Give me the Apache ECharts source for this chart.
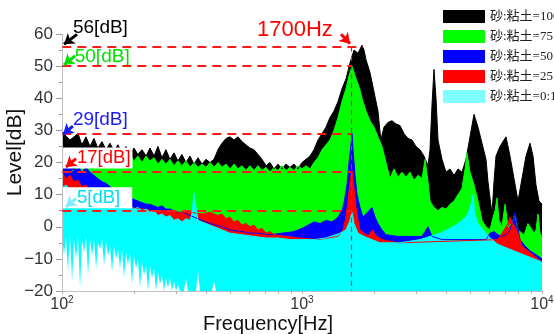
<!DOCTYPE html>
<html>
<head>
<meta charset="utf-8">
<script src="https://cdn.jsdelivr.net/npm/echarts@6/dist/echarts.min.js"></script>
<style>
  html, body {margin: 0; padding: 0; background: #fff;}
  #chart {width: 554px; height: 334px;}
</style>
</head>
<body>
<div id="chart"></div>
<script>
// legend names
const names = ['砂:粘土=100:0', '砂:粘土=75:25', '砂:粘土=50:50', '砂:粘土=25:75', '砂:粘土=0:100'];

// upper edges of each spectrum, [Hz, dB]
const blackSpec = [[100,29.5],[108,27],[116.6,29],[121,25.5],[125.9,28],[130.8,25],[135.9,27.5],[141,24.5],[146.8,26.5],[152.5,24],[158.5,26],[164.7,23.5],[171,25.5],[177.8,23],[184.8,25],[192,22.5],[199.5,24.5],[207,22.5],[215.4,24],[224,22],[232.6,24.5],[241.7,22],[251,25],[261,21.5],[271,24],[281.8,21],[292.9,23],[304,20.5],[316,22.5],[328.6,20],[341.5,22],[354.8,19.5],[368.7,21.5],[383,19.5],[398,21],[413.7,20],[429.9,21],[446.7,24],[464,26],[482.5,27.5],[501,28],[521,27],[541,28],[562,26.5],[584,25.5],[607,24.5],[631,24],[655.7,22.5],[681,21],[708,19],[735.6,20],[764.5,18],[794,19.5],[825.4,18],[857.7,19.5],[891,18.5],[926,19.5],[962,18],[1000,20],[1039,21],[1080,22],[1122,24],[1166,27],[1212,29],[1259,31],[1308,34],[1359,36],[1413,39],[1468,43],[1525,46],[1585,51],[1647,55],[1711,54],[1778,56.5],[1813,55],[1848,52],[1920,48],[1995,42],[2073,36],[2130,27],[2196,31],[2282,32.5],[2371,33],[2464,32],[2560,31.5],[2661,29],[2765,27.5],[2873,27],[2985,25],[3102,24],[3223,22],[3350,19],[3415,24],[3481,38],[3548,49],[3617,40],[3687,27],[3831,21],[3981,17],[4137,18],[4299,16],[4467,18],[4642,17],[4823,21],[5012,28],[5208,35],[5412,31],[5623,26],[5843,21],[5957,14],[6190,4],[6310,14],[6432,22],[6683,25],[6945,27],[7080,28],[7356,22],[7644,15],[7943,8],[8254,15],[8577,22],[8913,26],[9175,22],[9440,13],[9715,8],[10000,7]];

const greenSpec = [[100,17],[108,17],[116.6,18.5],[121,20],[125.9,19],[130.8,21.5],[135.9,20],[141,22],[146.8,21],[152.5,23.5],[158.5,21.5],[164.7,23],[171,21],[177.8,22.5],[184.8,21],[192,22.5],[199.5,20.5],[207,22],[215.4,20],[224,22],[232.6,20.5],[241.7,21.5],[251,19.5],[261,21],[271,19.5],[281.8,21],[292.9,19],[304,20.5],[316,19],[328.6,20.5],[341.5,18.5],[354.8,20],[368.7,18.5],[383,19.5],[398,18.5],[413.7,20],[429.9,18.5],[446.7,20],[464,18.5],[482.5,19.5],[501,18],[521,19.5],[541,18],[562,19],[584,17.5],[607,19],[631,17.5],[655.7,19],[681,17.5],[708,18.5],[735.6,17],[764.5,18.5],[794,17.5],[825.4,19],[857.7,17.5],[891,18.5],[926,17.5],[962,19],[1000,18],[1039,19],[1080,18],[1122,20],[1166,21.5],[1212,24],[1259,25.5],[1308,27],[1359,30],[1413,34],[1468,39],[1525,43],[1570,47],[1616,50],[1663,47],[1738,43],[1778,40],[1848,36],[1920,33],[1995,31],[2073,28],[2154,25],[2239,20],[2326,15],[2417,18],[2512,15.5],[2610,17],[2712,15.5],[2818,17],[2929,14.5],[3043,16],[3162,15],[3258,21],[3350,14],[3415,8],[3548,6],[3687,5],[3831,6],[3981,5.5],[4137,7],[4299,8],[4467,10],[4642,12],[4780,18],[4870,23],[5012,17],[5208,13],[5412,8],[5623,2],[5843,0],[6072,-1],[6253,3],[6372,5],[6494,9],[6620,2],[6813,0],[7015,7],[7218,0],[7497,1],[7705,4],[7943,-1],[8254,-2],[8430,-2.5],[8740,1],[9261,-2],[9440,-1],[9624,4],[9810,-2],[10000,-3]];

const blueSpec = [[100,19],[103.9,18],[108,19.5],[112,17.5],[116.6,19],[121,17],[125.9,18.5],[130.8,17],[135.9,16],[141,15],[146.8,14],[152.5,13.5],[158.5,12.5],[164.7,11.5],[171,11],[177.8,10.5],[184.8,9.5],[192,9],[199.5,8.5],[207,8],[215.4,7.5],[224,7],[232.6,7],[241.7,6.5],[251,6],[261,6.5],[271,5.5],[281.8,5.5],[292.9,5],[304,4.5],[316,4.5],[328.6,4],[341.5,3.5],[354.8,3],[368.7,2.5],[383,2],[413.7,1],[464,0],[501,-1],[562,-1.5],[607,-2],[655.7,-2],[735.6,-2.5],[825.4,-2],[926,-1.5],[1000,-0.5],[1059,0.5],[1122,1.5],[1189,1],[1259,2],[1333,1.5],[1413,3],[1468,5],[1497,7.5],[1540,13],[1570,20],[1600,25.5],[1616,29],[1632,24],[1663,16],[1695,10],[1745,6],[1795,3],[1848,4],[1902,5],[1957,6],[2015,3],[2073,1],[2154,-1],[2239,-2.5],[2512,-3],[3162,-3],[3350,0],[3481,-3],[3831,-4],[5843,-4],[6072,-2],[6310,-1.5],[6556,-2.5],[6813,-3],[7080,-2.5],[7356,-1],[7573,2],[7718,4.5],[7867,1],[8098,-4],[8497,-6],[8913,-7.5],[9351,-8.5],[10000,-10]];

const redSpec = [[100,17],[103.9,15],[108,16],[112,14],[116.6,14.5],[121,12.5],[125.9,13],[130.8,11],[135.9,11],[141,9.5],[146.8,9.5],[152.5,8],[158.5,8],[164.7,7],[171,7],[177.8,6.5],[184.8,6],[192,6],[215.4,5.5],[241.7,5],[271,5],[304,4.5],[341.5,4.5],[383,4],[413.7,4.5],[429.9,4],[446.7,3.5],[464,4],[482.5,2.5],[501,3],[521,1.5],[541,2],[562,0.5],[584,1],[607,0],[631,0.5],[655.7,-1],[681,-0.5],[708,-2],[735.6,-1.5],[764.5,-2.5],[857.7,-3],[962,-3.5],[1166,-4],[1413,-3],[1482,-1],[1525,3],[1555,8],[1585,14],[1616,17.5],[1647,12],[1679,6],[1711,2],[1745,-1],[1813,-2],[1884,-3],[1938,-1.5],[1976,-1],[2015,-2.5],[2154,-4],[2512,-5],[6556,-4],[6945,-1],[7218,1],[7356,3],[7499,1.5],[7718,0],[7943,-2],[8254,-6],[8913,-8],[10000,-11]];

const cyanSpec = [[100,12],[103.9,13],[108,11.5],[112,12],[116.6,10],[121,11],[125.9,9.5],[130.8,10],[135.9,8.5],[141,9],[146.8,7.5],[152.5,8.5],[158.5,7],[164.7,8],[171,6.5],[177.8,7],[184.8,6],[192,6.5],[199.5,5.5],[207,6],[215.4,5],[224,5.5],[232.6,4.5],[241.7,5],[251,3.5],[261,4],[271,3],[281.8,3.5],[292.9,2],[304,2.5],[316,1.5],[328.6,2.5],[341.5,2],[348,4],[354.8,10.5],[361.7,6],[368.7,2],[383,1.5],[398,1],[413.7,0.5],[429.9,0],[446.7,-0.5],[464,-1],[482.5,-1.5],[501,-2],[562,-2.5],[631,-3],[708,-3.5],[794,-3.5],[891,-4],[1000,-4],[1122,-4],[1259,-3.5],[1440,-2],[1525,-1],[1585,2],[1616,4.5],[1647,1],[1711,-2],[1813,-3],[1957,-4],[2113,-5],[2560,-5],[3102,-4],[3415,-3],[3758,-2],[4137,-0.5],[4467,1],[4732,2.5],[4918,4],[5061,7],[5158,10],[5258,4],[5412,1],[5623,-0.5],[5843,-2],[6072,-3.5],[6310,-4.5],[6556,-5.5],[7080,-6.5],[7644,-7.5],[8254,-8.5],[8913,-9.5],[9624,-10.5],[10000,-11]];

// lower edge of the noise at low frequency (white below)
const floorSpec = [[100,-2],[101.9,-9],[103.9,-3],[105.9,-14],[108,-2],[110.1,-17],[112.2,-4],[114.4,-10],[116.6,-3],[118.9,-19],[121.2,-4],[123.5,-8],[125.9,-3],[128.4,-15],[130.9,-4],[133.4,-9],[136,-4],[138.7,-13],[141.3,-5],[144.1,-7],[146.8,-4],[149.7,-12],[152.6,-5],[155.6,-9],[158.5,-6],[161.6,-14],[164.8,-6],[168,-10],[171.1,-7],[174.5,-13],[177.8,-7],[181.3,-16],[184.8,-8],[188.4,-12],[192,-8],[195.7,-18],[199.5,-9],[203.4,-13],[207.3,-10],[211.3,-19],[215.4,-11],[219.6,-15],[223.9,-12],[228.2,-20],[232.6,-12],[237.1,-16],[241.7,-13],[246.4,-20],[251.2,-14],[256,-18],[261,-15],[266,-20],[271.2,-16],[276.5,-19],[281.8,-16],[287.3,-20],[292.9,-17],[298.5,-20],[304.3,-18],[310.2,-20],[322.4,-20],[328.6,-16],[335,-20],[361.7,-20],[368.7,-14],[375.8,-20],[421.7,-20],[429.9,-17],[438.3,-20],[501,-20]];

// reference levels [dB] and the 1700Hz peak
const levels = [56, 50, 29, 17, 5];
const peakHz = 1600;

const colors = ['#000000', '#00ff00', '#0000ff', '#ff0000', '#00ffff'];
const specs = [blackSpec, greenSpec, blueSpec, redSpec, cyanSpec];

const chart = echarts.init(document.getElementById('chart'));

const series = specs.map((d, i) => ({
    name: names[i],
    type: 'line',
    data: d,
    symbol: 'none',
    lineStyle: {width: 1, color: colors[i]},
    itemStyle: {color: colors[i]},
    areaStyle: {color: colors[i], opacity: 1, origin: -20}
}));

const lineTop = {color: '#ff1a1a', width: 2, type: [9, 6]};
const dashed = levels.map((v, i) => [
    {coord: [100.3, v], lineStyle: lineTop},
    {coord: [i === 0 ? 1790 : peakHz, v]}
]);
dashed.push([
    {coord: [peakHz, 56], lineStyle: {color: '#ff1a1a', width: 1.2, type: [5, 4]}},
    {coord: [peakHz, -19.9]}
]);

const arrow = (from, to, color) => [
    {coord: from, lineStyle: {color: color, width: 3, type: 'solid'}, symbol: 'none'},
    {coord: to, symbol: 'arrow', symbolSize: 10, itemStyle: {color: color}}
];

const textPt = (coord, text, color, size, extra) => ({
    coord: coord,
    symbol: 'circle',
    symbolSize: 0,
    label: Object.assign({
        show: true, position: 'right', distance: 0, formatter: text,
        color: color, fontSize: size, fontFamily: 'Liberation Sans'
    }, extra || {})
});

series.push({
    name: 'floor',
    type: 'line',
    data: floorSpec,
    symbol: 'none',
    lineStyle: {width: 0},
    areaStyle: {color: '#ffffff', opacity: 1, origin: -20},
    markLine: {
        silent: true,
        symbol: ['none', 'none'],
        label: {show: false},
        z: 6,
        data: dashed.concat([
            arrow([115.5, 59.9], [101.9, 56.8], '#000000'),
            arrow([113.3, 53.2], [101.9, 50.4], '#00dd00'),
            arrow([111, 31.3], [101, 28.8], '#1a1aff'),
            arrow([114.4, 21.2], [103.9, 18.6], '#ff0000'),
            arrow([114.4, 8.8], [103.9, 6.2], '#80eeff'),
            arrow([1454, 59.9], [1585, 57.0], '#ff0000')
        ])
    },
    markPoint: {
        silent: true,
        z: 5,
        data: [
            textPt([111.1, 59.9], '56[dB]', '#000000', 19, {offset: [0, -7]}),
            textPt([113, 52.8], '50[dB]', '#00e000', 19),
            textPt([111, 33.3], '29[dB]', '#1a1aff', 19),
            textPt([101, 21.4], '17[dB]', '#ff0000', 18.5,
                {backgroundColor: '#fff', padding: [1, 2, 1, 14]}),
            textPt([101, 9.0], '5[dB]', '#00e0f0', 18.5,
                {backgroundColor: '#fff', padding: [1, 12, 1, 14]}),
            textPt([649, 59.9], '1700Hz', '#ff0000', 22, {offset: [0, -4]})
        ]
    }
});

const minorHz = [];
[100, 1000].forEach(b => { for (let k = 1; k <= 9; k++) minorHz.push(b * k); });
minorHz.push(10000);

const option = {
    animation: false,
    grid: {left: 62, right: 12, top: 34, bottom: 43, outerBoundsMode: 'none', containLabel: false},
    legend: {
        orient: 'vertical',
        left: 438,
        top: 5,
        icon: 'rect',
        itemWidth: 42,
        itemHeight: 13,
        itemGap: 7,
        backgroundColor: '#fff',
        textStyle: {fontSize: 13, color: '#222', fontFamily: 'Liberation Serif, Noto Sans CJK JP'},
        data: names.map((n, i) => i === 4 ? {name: n, itemStyle: {color: '#80ffff'}} : {name: n})
    },
    xAxis: {
        type: 'log',
        logBase: 10,
        min: 100,
        max: 10000,
        z: 4,
        name: 'Frequency[Hz]',
        nameLocation: 'middle',
        nameGap: 23,
        nameMoveOverlap: false,
        nameTextStyle: {fontSize: 20, color: '#111', fontFamily: 'Liberation Sans', padding: [0, 68, 0, 0]},
        axisLine: {onZero: false, lineStyle: {color: '#c0c0c0', width: 1}},
        axisTick: {length: 3, customValues: minorHz, lineStyle: {color: '#b0b0b0'}},
        splitLine: {show: false},
        axisLabel: {
            customValues: [100, 1000, 10000],
            margin: 4,
            fontSize: 16,
            color: '#333',
            fontFamily: 'Liberation Sans',
            formatter: v => '10{s|' + Math.round(Math.log10(v)) + '}',
            rich: {s: {fontSize: 10, color: '#333', fontFamily: 'Liberation Sans', verticalAlign: 'top', padding: [0, 0, 9, 0]}}
        }
    },
    yAxis: {
        type: 'value',
        min: -20,
        max: 60,
        interval: 10,
        z: 4,
        name: 'Level[dB]',
        nameLocation: 'middle',
        nameGap: 36,
        nameMoveOverlap: false,
        nameTextStyle: {fontSize: 21, color: '#111', fontFamily: 'Liberation Sans', padding: [0, 0, 0, 20]},
        axisLine: {show: true, onZero: false, lineStyle: {color: '#c0c0c0', width: 1}},
        axisTick: {show: true, length: 6, lineStyle: {color: '#999'}},
        minorTick: {show: true, splitNumber: 2, length: 3, lineStyle: {color: '#999'}},
        splitLine: {show: false},
        axisLabel: {
            margin: 9,
            fontSize: 17,
            color: '#333',
            fontFamily: 'Liberation Sans',
            formatter: v => v < 0 ? '\u2212' + (-v) : String(v)
        }
    },
    series: series
};

chart.setOption(option);
</script>
</body>
</html>
